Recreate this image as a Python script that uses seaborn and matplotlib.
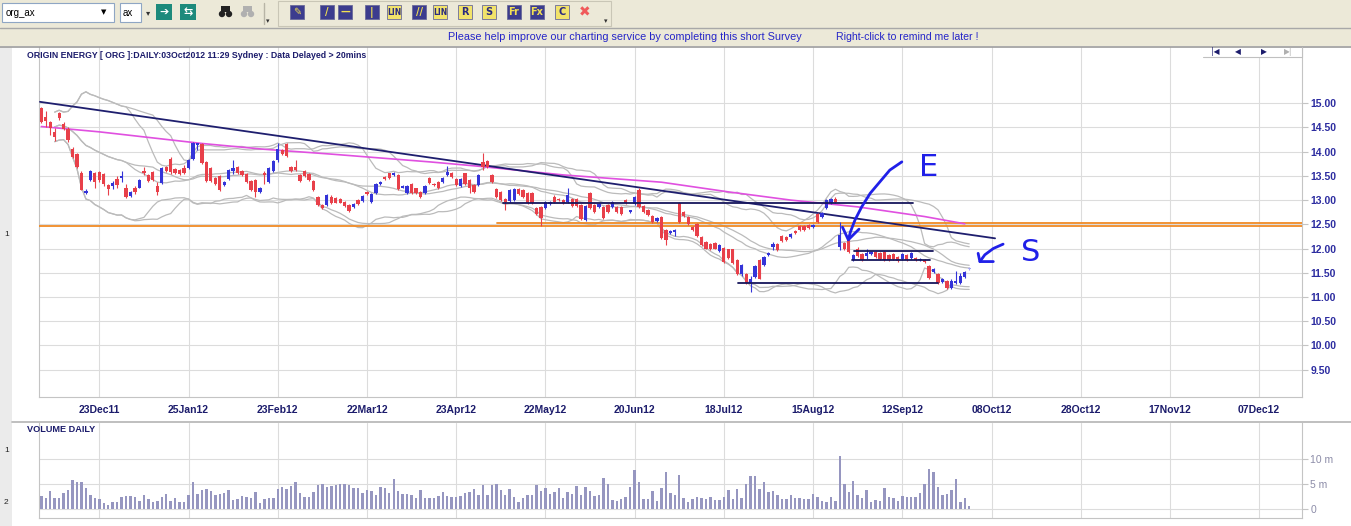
import numpy as np
import pandas as pd
import matplotlib
matplotlib.use("Agg")
import matplotlib.pyplot as plt
from matplotlib.patches import Rectangle, Circle
import seaborn as sns

# ---- ORG daily candles, Dec 2011 -> 03 Oct 2012 ----
opens = [
    14.90, 14.72, 14.62, 14.41, 14.79, 14.58, 14.46, 14.06, 13.96, 13.56,
    13.14, 13.42, 13.56, 13.59, 13.54, 13.31, 13.30, 13.44, 13.46, 13.26,
    13.08, 13.26, 13.26, 13.61, 13.51, 13.58, 13.30, 13.35, 13.68, 13.85,
    13.65, 13.63, 13.67, 13.67, 13.85, 14.13, 14.15, 13.78, 13.67, 13.46,
    13.49, 13.32, 13.44, 13.61, 13.69, 13.61, 13.54, 13.40, 13.42, 13.16,
    13.56, 13.37, 13.60, 13.82, 14.04, 14.15, 13.68, 13.69, 13.51, 13.60,
    13.53, 13.39, 13.07, 12.90, 12.90, 13.07, 13.04, 13.02, 12.97, 12.90,
    12.85, 13.00, 12.99, 13.17, 12.97, 13.14, 13.34, 13.48, 13.55, 13.52,
    13.52, 13.26, 13.15, 13.34, 13.24, 13.17, 13.14, 13.45, 13.34, 13.38,
    13.38, 13.52, 13.57, 13.43, 13.29, 13.55, 13.41, 13.31, 13.31, 13.79,
    13.81, 13.52, 13.22, 13.17, 13.03, 12.99, 13.01, 13.22, 13.21, 13.15,
    13.15, 12.83, 12.86, 12.83, 12.92, 13.07, 13.03, 13.00, 12.97, 13.03,
    13.03, 12.90, 12.59, 13.14, 12.90, 12.85, 12.86, 12.90, 12.86, 12.86,
    12.85, 13.01, 12.76, 12.92, 13.21, 12.88, 12.79, 12.67, 12.57, 12.66,
    12.38, 12.31, 12.34, 12.93, 12.76, 12.66, 12.45, 12.50, 12.23, 12.14,
    12.10, 12.12, 11.95, 12.02, 11.98, 11.98, 11.76, 11.48, 11.47, 11.29,
    11.41, 11.76, 11.66, 11.86, 12.03, 12.09, 12.26, 12.24, 12.23, 12.37,
    12.46, 12.46, 12.48, 12.45, 12.72, 12.66, 12.83, 12.93, 13.03, 12.03,
    12.12, 12.17, 11.76, 11.98, 11.88, 11.84, 11.88, 11.93, 11.90, 11.93,
    11.86, 11.88, 11.83, 11.79, 11.86, 11.81, 11.81, 11.76, 11.77, 11.63,
    11.52, 11.47, 11.31, 11.33, 11.19, 11.29, 11.29, 11.41, 11.57,
]
closes = [
    14.62, 14.64, 14.48, 14.31, 14.69, 14.46, 14.24, 13.90, 13.69, 13.21,
    13.19, 13.61, 13.37, 13.42, 13.33, 13.23, 13.35, 13.32, 13.48, 13.06,
    13.16, 13.16, 13.42, 13.56, 13.40, 13.42, 13.16, 13.67, 13.61, 13.58,
    13.56, 13.54, 13.56, 13.83, 14.17, 14.17, 13.76, 13.39, 13.39, 13.33,
    13.21, 13.37, 13.63, 13.67, 13.56, 13.51, 13.37, 13.21, 13.16, 13.25,
    13.51, 13.67, 13.81, 14.06, 13.96, 13.92, 13.61, 13.62, 13.40, 13.49,
    13.42, 13.21, 12.90, 12.83, 13.11, 12.95, 12.95, 12.95, 12.88, 12.78,
    12.92, 12.92, 13.08, 13.12, 13.12, 13.34, 13.38, 13.43, 13.45, 13.57,
    13.22, 13.29, 13.29, 13.14, 13.14, 13.07, 13.29, 13.36, 13.31, 13.24,
    13.45, 13.59, 13.48, 13.31, 13.43, 13.34, 13.24, 13.17, 13.52, 13.69,
    13.68, 13.38, 13.07, 13.00, 12.97, 13.21, 13.22, 13.12, 13.07, 12.94,
    12.93, 12.72, 12.62, 12.97, 12.97, 12.97, 13.00, 12.94, 13.10, 12.88,
    12.88, 12.60, 12.88, 12.83, 12.76, 12.92, 12.62, 12.76, 12.97, 12.76,
    12.72, 12.94, 12.78, 13.07, 12.85, 12.76, 12.69, 12.55, 12.64, 12.21,
    12.17, 12.37, 12.38, 12.55, 12.67, 12.50, 12.38, 12.26, 12.07, 12.00,
    11.98, 12.00, 12.07, 11.72, 11.81, 11.70, 11.48, 11.66, 11.29, 11.38,
    11.63, 11.38, 11.83, 11.90, 12.10, 11.97, 12.16, 12.17, 12.30, 12.32,
    12.38, 12.39, 12.43, 12.48, 12.55, 12.74, 13.00, 13.03, 12.97, 12.28,
    11.98, 11.93, 11.86, 11.84, 11.76, 11.91, 11.93, 11.83, 11.79, 11.76,
    11.76, 11.79, 11.74, 11.88, 11.76, 11.91, 11.77, 11.79, 11.72, 11.40,
    11.57, 11.29, 11.38, 11.19, 11.33, 11.33, 11.43, 11.52, 11.60,
]
highs = [
    14.93, 14.85, 14.64, 14.48, 14.83, 14.62, 14.50, 14.10, 13.98, 13.60,
    13.22, 13.63, 13.58, 13.61, 13.56, 13.33, 13.40, 13.49, 13.61, 13.33,
    13.18, 13.30, 13.44, 13.68, 13.53, 13.60, 13.37, 13.69, 13.70, 13.89,
    13.67, 13.65, 13.72, 13.85, 14.19, 14.18, 14.17, 13.80, 13.69, 13.48,
    13.51, 13.39, 13.65, 13.82, 13.71, 13.63, 13.56, 13.42, 13.44, 13.27,
    13.61, 13.69, 13.83, 14.17, 14.06, 14.17, 13.70, 13.82, 13.53, 13.62,
    13.55, 13.41, 13.09, 12.92, 13.13, 13.10, 13.07, 13.04, 12.99, 12.92,
    12.94, 13.02, 13.10, 13.19, 13.14, 13.36, 13.40, 13.50, 13.57, 13.59,
    13.54, 13.31, 13.31, 13.36, 13.26, 13.19, 13.31, 13.47, 13.36, 13.40,
    13.47, 13.70, 13.59, 13.45, 13.45, 13.57, 13.43, 13.33, 13.54, 13.98,
    13.83, 13.54, 13.24, 13.19, 13.05, 13.23, 13.24, 13.24, 13.23, 13.17,
    13.17, 12.85, 12.88, 12.99, 12.99, 13.10, 13.05, 13.02, 13.24, 13.05,
    13.05, 12.92, 12.90, 13.16, 12.92, 12.94, 12.88, 12.92, 12.99, 12.88,
    12.87, 13.03, 12.80, 13.09, 13.24, 12.90, 12.81, 12.69, 12.66, 12.68,
    12.40, 12.39, 12.41, 12.97, 12.78, 12.68, 12.47, 12.52, 12.25, 12.16,
    12.12, 12.14, 12.09, 12.04, 12.00, 12.00, 11.78, 11.69, 11.49, 11.43,
    11.65, 11.78, 11.85, 11.92, 12.14, 12.11, 12.28, 12.26, 12.32, 12.39,
    12.48, 12.48, 12.50, 12.50, 12.74, 12.76, 13.03, 13.05, 13.07, 12.55,
    12.14, 12.19, 11.88, 12.03, 11.90, 12.00, 11.95, 11.95, 11.92, 11.95,
    11.88, 11.90, 11.85, 11.90, 11.88, 11.93, 11.83, 11.81, 11.79, 11.65,
    11.59, 11.49, 11.40, 11.35, 11.38, 11.54, 11.50, 11.54, 11.61,
]
lows = [
    14.60, 14.51, 14.34, 14.22, 14.65, 14.44, 14.20, 13.88, 13.67, 13.20,
    13.12, 13.40, 13.26, 13.38, 13.30, 13.11, 13.23, 13.26, 13.37, 13.04,
    13.06, 13.12, 13.24, 13.51, 13.38, 13.40, 13.11, 13.33, 13.59, 13.54,
    13.54, 13.52, 13.54, 13.65, 13.83, 14.03, 13.74, 13.37, 13.37, 13.31,
    13.19, 13.30, 13.42, 13.54, 13.54, 13.49, 13.35, 13.19, 13.07, 13.14,
    13.33, 13.35, 13.58, 13.78, 13.94, 13.90, 13.59, 13.60, 13.38, 13.47,
    13.40, 13.19, 12.88, 12.81, 12.88, 12.92, 12.93, 12.93, 12.86, 12.76,
    12.83, 12.90, 12.97, 13.10, 12.95, 13.12, 13.32, 13.41, 13.43, 13.50,
    13.20, 13.24, 13.13, 13.12, 13.12, 13.05, 13.12, 13.34, 13.29, 13.22,
    13.36, 13.50, 13.46, 13.29, 13.27, 13.32, 13.14, 13.15, 13.29, 13.62,
    13.66, 13.36, 13.05, 12.98, 12.79, 12.97, 12.99, 13.10, 13.05, 12.92,
    12.91, 12.70, 12.46, 12.81, 12.90, 12.95, 12.98, 12.92, 12.95, 12.86,
    12.86, 12.58, 12.57, 12.81, 12.74, 12.83, 12.60, 12.74, 12.84, 12.74,
    12.70, 12.92, 12.74, 12.90, 12.83, 12.74, 12.67, 12.53, 12.55, 12.19,
    12.07, 12.29, 12.26, 12.53, 12.65, 12.48, 12.36, 12.24, 12.05, 11.98,
    11.96, 11.98, 11.93, 11.70, 11.79, 11.68, 11.46, 11.43, 11.27, 11.10,
    11.39, 11.36, 11.64, 11.84, 11.97, 11.95, 12.14, 12.15, 12.21, 12.30,
    12.36, 12.37, 12.41, 12.43, 12.53, 12.64, 12.81, 12.91, 12.93, 11.97,
    11.96, 11.91, 11.74, 11.82, 11.74, 11.79, 11.86, 11.81, 11.77, 11.74,
    11.74, 11.77, 11.72, 11.77, 11.74, 11.79, 11.75, 11.74, 11.70, 11.38,
    11.50, 11.27, 11.29, 11.17, 11.17, 11.27, 11.27, 11.39, 11.56,
]
# daily volume in millions of shares
volume_m = [
    2.6, 2.1, 3.55, 2.1, 2.2, 3.1, 3.75, 5.7, 5.3, 5.3,
    4.2, 2.8, 2.2, 2.0, 1.25, 0.8, 1.4, 1.4, 2.4, 2.6,
    2.6, 2.3, 1.6, 2.8, 2.0, 1.45, 1.6, 2.3, 2.95, 1.6, 2.2,
    1.45, 1.3, 2.8, 5.3, 2.95, 3.75, 3.95, 3.55, 2.8, 2.9,
    3.2, 3.75, 1.8, 1.9, 2.6, 2.4, 2.2, 3.35, 1.25, 2.0, 2.2,
    2.2, 3.95, 4.4, 4.0, 4.55, 5.3, 3.2, 2.4, 2.4, 3.35,
    4.75, 4.9, 4.4, 4.6, 4.75, 5.05, 4.9, 4.75, 4.1, 4.1, 3.1,
    3.75, 3.6, 2.8, 4.3, 4.1, 3.2, 5.9, 3.55, 2.95, 2.95,
    2.7, 2.2, 3.75, 2.1, 2.1, 2.1, 2.6, 3.35, 2.6, 2.4,
    2.4, 2.5, 3.2, 3.35, 3.95, 2.7, 4.75, 2.8, 4.75, 5.05,
    3.75, 2.8, 3.95, 2.4, 1.45, 2.2, 2.8, 2.8, 4.75, 3.55,
    4.1, 2.95, 3.4, 4.1, 2.1, 3.3, 2.95, 4.55, 2.8, 4.3,
    3.55, 2.6, 2.8, 6.25, 4.9, 1.8, 1.65, 1.9, 2.4, 4.3,
    7.7, 5.3, 2.0, 2.0, 3.55, 1.65, 4.1, 7.3, 3.1, 2.8,
    6.7, 2.2, 1.4, 2.0, 2.3, 2.1, 2.0, 2.3, 1.8, 1.8,
    2.4, 3.75, 2.0, 3.95, 2.2, 5.05, 6.65, 6.5, 3.95, 5.3,
    3.4, 3.55, 2.7, 2.0, 2.0, 2.8, 2.2, 2.2, 2.0, 2.0,
    2.95, 2.4, 1.6, 1.45, 2.4, 1.65, 10.65, 4.9, 3.35, 5.5,
    2.8, 2.2, 3.75, 1.4, 1.8, 1.65, 4.1, 2.3, 2.1, 1.65,
    2.6, 2.3, 2.3, 2.4, 3.1, 5.05, 8.0, 7.3, 4.3, 2.8,
    2.95, 3.75, 5.9, 1.4, 2.2, 0.6,
]

# date axis: one grid line every 20 bars
date_labels = ["23Dec11", "25Jan12", "23Feb12", "22Mar12", "23Apr12", "22May12",
               "20Jun12", "18Jul12", "15Aug12", "12Sep12", "08Oct12", "28Oct12",
               "17Nov12", "07Dec12"]
date_bars = [13, 33, 53, 73, 93, 113, 133, 153, 173, 193, 213, 233, 253, 273]
price_ticks = [9.5, 10.0, 10.5, 11.0, 11.5, 12.0, 12.5, 13.0, 13.5, 14.0, 14.5, 15.0]
vol_ticks = [0, 5, 10]
vol_tick_labels = ["0", "5 m", "10 m"]

# long moving average (magenta) sampled along its path
ma_bars = [0, 13, 36, 50, 65, 87, 98, 117, 139, 154, 168, 183, 198, 207]
ma_vals = [14.52, 14.41, 14.17, 14.05, 13.95, 13.79, 13.70, 13.52, 13.37,
           13.17, 13.00, 12.86, 12.66, 12.51]

# user drawn lines
trend_bars = [-0.3, 213.8]
trend_vals = [15.03, 12.21]
orange_vals = [12.46, 12.52]
orange_from = [-0.45, 102.2]
level_vals = [12.93, 11.95, 11.76, 11.29]
level_from = [103.6, 182.2, 181.7, 156.2]
level_to = [195.4, 199.9, 199.2, 201.0]

# hand drawn "E" and "S" arrows
e_arrow_x = [192.9, 190.2, 188.0, 185.8, 183.9, 182.4, 181.4, 180.9]
e_arrow_y = [13.79, 13.62, 13.38, 13.14, 12.86, 12.59, 12.35, 12.18]
e_head_x = [179.6, 180.9, 183.3]
e_head_y = [12.44, 12.18, 12.40]
s_arrow_x = [215.6, 213.4, 211.5, 210.4]
s_arrow_y = [12.09, 12.00, 11.87, 11.73]
s_head_x = [210.0, 210.4, 213.4]
s_head_y = [11.90, 11.73, 11.73]

W, H = 1351, 526
XMIN, XMAX = -0.45, 282.6

sns.set_style("white")
plt.rcParams['font.family'] = ['Liberation Sans', 'DejaVu Sans']

NAVY_TXT = '#1c1c6c'
RED = '#e8404a'
BLUE = '#3434d8'
GRID = '#dcdcdc'
SPINE = '#c4c4c4'

fig = plt.figure(figsize=(W / 100, H / 100), dpi=100)
fig.patch.set_facecolor('white')


def px_axes(x0, y0, x1, y1):
    return fig.add_axes([x0 / W, 1 - y1 / H, (x1 - x0) / W, (y1 - y0) / H])


ax = px_axes(39.3, 47, 1302, 397)
axv = px_axes(39.3, 422.7, 1302, 518.3)

bars = np.arange(len(closes))
o = np.array(opens)
c = np.array(closes)
hi = np.array(highs)
lo = np.array(lows)

# bollinger style bands (two sets)
s = pd.Series(c)
for win, k in [(20, 2.0), (26, 2.0)]:
    mid = s.rolling(win, min_periods=4).mean()
    sd = s.rolling(win, min_periods=4).std()
    for line in (mid + k * sd, mid, mid - k * sd):
        sns.lineplot(x=bars, y=line.values, ax=ax, color='#bbbbbb', lw=0.9,
                     legend=False, zorder=2)

# orange support lines
for v, x0 in zip(orange_vals, orange_from):
    ax.plot([x0, XMAX], [v, v], color='#f08a24', lw=1.3, zorder=3)

sns.lineplot(x=ma_bars, y=ma_vals, ax=ax, color='#e050e0', lw=1.2, legend=False, zorder=3)
ax.plot(trend_bars, trend_vals, color='#1e1e6e', lw=1.3, zorder=3)

# candles
colors = np.where(c >= o, BLUE, RED).astype(object)
colors[-1] = '#a8a8f0'
ax.vlines(bars, lo, hi, colors=list(colors), lw=0.8, zorder=4)
ax.bar(bars, np.maximum(np.abs(c - o), 0.03), bottom=np.minimum(o, c), width=0.74,
       color=list(colors), linewidth=0, zorder=5)

for v, x0, x1 in zip(level_vals, level_from, level_to):
    ax.plot([x0, x1], [v, v], color='#16165c', lw=1.3, zorder=6)

# annotations
hand = '#2020e8'
for xs, ys in [(e_arrow_x, e_arrow_y), (e_head_x, e_head_y),
               (s_arrow_x, s_arrow_y), (s_head_x, s_head_y)]:
    ax.plot(xs, ys, color=hand, lw=2.0, zorder=7, solid_capstyle='round',
            solid_joinstyle='round')
ax.text(199.0, 13.68, "E", color=hand, fontsize=22, family=['DejaVu Sans'],
        ha='center', va='center', zorder=7)
ax.text(221.8, 11.91, "S", color=hand, fontsize=22, family=['DejaVu Sans'],
        ha='center', va='center', zorder=7)

ax.set_xlim(XMIN, XMAX)
ax.set_ylim(8.932, 16.163)
ax.set_xticks(date_bars)
ax.set_xticklabels(date_labels, fontsize=7.5, fontweight='bold', color=NAVY_TXT)
ax.yaxis.tick_right()
ax.set_yticks(price_ticks)
ax.set_yticklabels([f"{v:.2f}" for v in price_ticks], fontsize=7.5,
                   fontweight='bold', color='#2c2ca0')
ax.tick_params(axis='both', length=4, color=SPINE, width=0.8, pad=2)
ax.grid(True, color=GRID, lw=0.8, zorder=0)
ax.set_axisbelow(True)
for side in ('left', 'right', 'bottom'):
    ax.spines[side].set_color(SPINE)
    ax.spines[side].set_linewidth(0.8)
ax.spines['top'].set_visible(False)
ax.set_xlabel('')
ax.set_ylabel('')
ax.patch.set_alpha(0)

# volume panel
axv.bar(bars, volume_m, width=0.55, color='#9696c0', linewidth=0, zorder=3)
axv.set_xlim(XMIN, XMAX)
axv.set_ylim(-1.86, 17.26)
axv.set_xticks(date_bars)
axv.set_xticklabels([])
axv.yaxis.tick_right()
axv.set_yticks(vol_ticks)
axv.set_yticklabels(vol_tick_labels, fontsize=7.5, color='#8c8ca8')
axv.tick_params(axis='both', length=4, color=SPINE, width=0.8, pad=2)
axv.grid(True, color=GRID, lw=0.8, zorder=0)
axv.set_axisbelow(True)
for side in ('left', 'right', 'bottom'):
    axv.spines[side].set_color(SPINE)
    axv.spines[side].set_linewidth(0.8)
axv.spines['top'].set_visible(False)
axv.patch.set_alpha(0)

# ---- window chrome (pixel coordinates) ----
cx = fig.add_axes([0, 0, 1, 1], zorder=10)
cx.set_xlim(0, W)
cx.set_ylim(H, 0)
cx.axis('off')
cx.patch.set_alpha(0)

BEIGE = '#ece9d8'
cx.add_patch(Rectangle((0, 0), W, 46, fc=BEIGE, ec='none'))
cx.plot([0, W], [28, 28], color='#a8a8a8', lw=1)
cx.plot([0, W], [46.5, 46.5], color='#9c9c9c', lw=1.2)
cx.add_patch(Rectangle((0, 47), 12, H - 47, fc='#ebebeb', ec='none'))
cx.plot([12, W], [421.5, 421.5], color='#b4b4b4', lw=1.2)

# toolbar left part
cx.add_patch(Rectangle((2, 3), 112, 19, fc='white', ec='#8fa6c4', lw=0.8))
cx.text(6, 12.5, "org_ax", fontsize=7, va='center', color='black')
cx.text(104, 12.5, "▼", fontsize=5, va='center', ha='center', color='black',
        family=['DejaVu Sans'])
cx.add_patch(Rectangle((120, 3), 21, 19, fc='white', ec='#8fa6c4', lw=0.8))
cx.text(123, 12.5, "ax", fontsize=7, va='center', color='black')
cx.text(148, 12.5, "▾", fontsize=6, va='center', ha='center', color='#333333',
        family=['DejaVu Sans'])
for x0, g in [(156, "➔"), (180, "⇆")]:
    cx.add_patch(Rectangle((x0, 4), 16, 16, fc='#1d8a7c', ec='none'))
    cx.text(x0 + 8, 12.5, g, fontsize=8, ha='center', va='center', color='white',
            fontweight='bold', family=['DejaVu Sans'])
for x0, col in [(218, '#222222'), (240, '#b0b0b0')]:
    cx.add_patch(Circle((x0 + 4, 14), 3.2, fc=col, ec='none'))
    cx.add_patch(Circle((x0 + 11, 14), 3.2, fc=col, ec='none'))
    cx.add_patch(Rectangle((x0 + 3, 6), 9, 6, fc=col, ec='none'))
cx.plot([264, 264], [3, 24], color='#b8b5a6', lw=1)
cx.text(268, 21, "▾", fontsize=5, ha='center', va='center', color='#333333',
        family=['DejaVu Sans'])

# drawing tools toolbar
cx.add_patch(Rectangle((278, 1), 333, 25, fc=BEIGE, ec='#c9c6b6', lw=0.8))
icons = [(290, 'n', "✎"), (320, 'n', "/"), (338, 'n', "—"), (365, 'n', "|"),
         (387, 'y', "LIN"), (412, 'n', "//"), (433, 'y', "LIN"), (458, 'y', "R"),
         (482, 'y', "S"), (507, 'n', "Fr"), (530, 'n', "Fx"), (555, 'y', "C")]
for x0, kind, g in icons:
    fc, tc = ('#3c3c8e', '#f2e052') if kind == 'n' else ('#f2e36a', '#2a2a80')
    cx.add_patch(Rectangle((x0, 5), 14, 14, fc=fc, ec='#6a6a9a', lw=0.6))
    cx.text(x0 + 7, 12.2, g, fontsize=5.5 if len(g) > 2 else 7, ha='center',
            va='center', color=tc, fontweight='bold', family=['DejaVu Sans'])
cx.text(585, 12.2, "✖", fontsize=10, ha='center', va='center', color='#f05a5a',
        family=['DejaVu Sans'])
cx.text(606, 21, "▾", fontsize=5, ha='center', va='center', color='#333333',
        family=['DejaVu Sans'])

# survey banner
cx.text(448, 37.5, "Please help improve our charting service by completing this short Survey",
        fontsize=7.8, va='center', color='#2525c8')
cx.text(836, 37.5, "Right-click to remind me later !", fontsize=7.6, va='center',
        color='#2525c8')

# chart titles
cx.text(27, 55, "ORIGIN ENERGY [ ORG ]:DAILY:03Oct2012 11:29 Sydney : Data Delayed > 20mins",
        fontsize=6.3, fontweight='bold', va='center', color=NAVY_TXT)
cx.text(27, 430, "VOLUME DAILY", fontsize=6.6, fontweight='bold', va='center',
        color=NAVY_TXT)

# scroll buttons
cx.add_patch(Rectangle((1203, 47), 99, 10, fc='white', ec='none'))
cx.plot([1203, 1302, 1302], [57, 57, 47], color='#c0c0c0', lw=0.8)
for xb, g, col in [(1215, "|◀", '#1c1c6c'), (1238, "◀", '#1c1c6c'),
                   (1264, "▶", '#1c1c6c'), (1288, "▶|", '#b0b0b0')]:
    cx.text(xb, 52, g, fontsize=5.5, ha='center', va='center', color=col,
            family=['DejaVu Sans'])

# panel numbers on the left strip
for yy, t in [(235, "1"), (450, "1"), (503, "2")]:
    cx.text(4, yy, t, fontsize=6, va='center', color='#222222')

fig.savefig("out.png", dpi=100)
